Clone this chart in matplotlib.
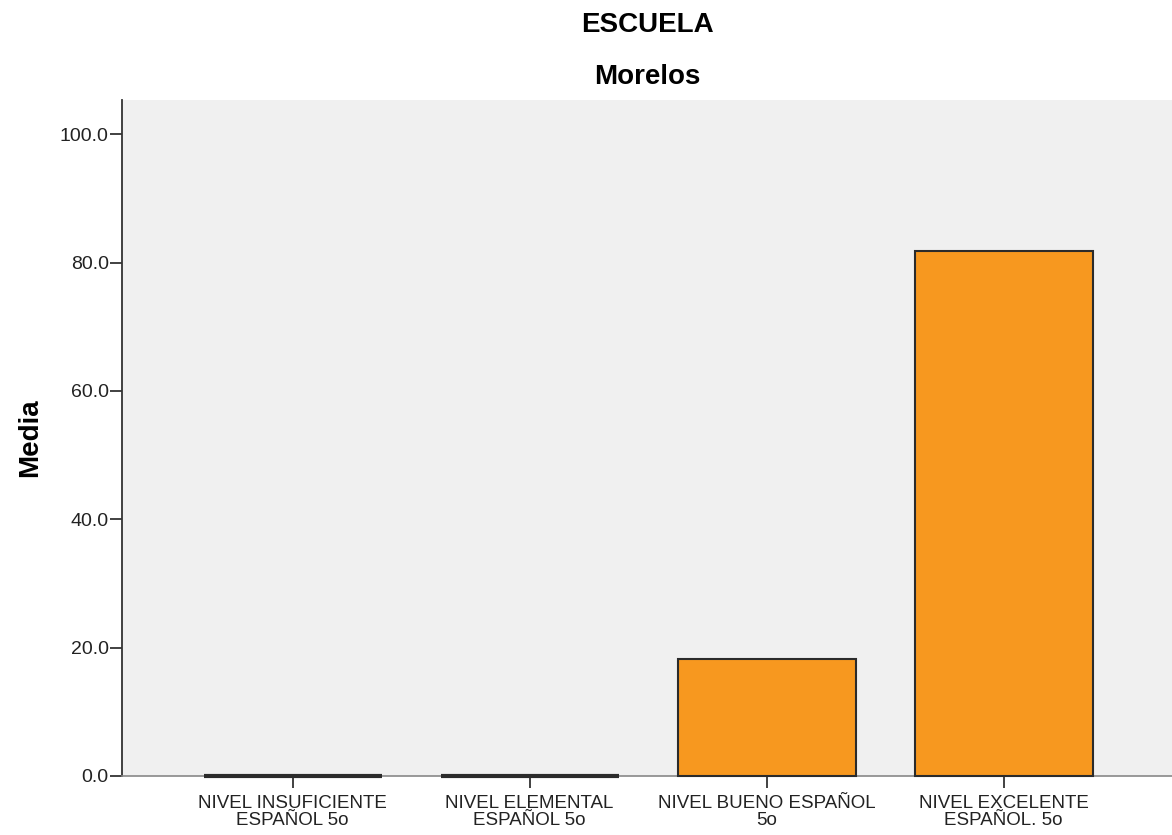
import numpy as np
import matplotlib.pyplot as plt

categorias = ['NIVEL INSUFICIENTE\nESPAÑOL 5o', 'NIVEL ELEMENTAL\nESPAÑOL 5o',
              'NIVEL BUENO ESPAÑOL\n5o', 'NIVEL EXCELENTE\nESPAÑOL. 5o']
medias = [0.0, 0.0, 18.2, 81.8]
yticks = [0, 20, 40, 60, 80, 100]

plt.rcParams['font.family'] = ['Liberation Sans', 'DejaVu Sans']

fig = plt.figure(figsize=(11.72, 8.35), dpi=100)
ax = fig.add_axes([0.1041, 0.0707, 0.8959, 0.8093])
ax.set_facecolor('#f0f0f0')

x = np.arange(len(categorias))
anchos = [3.0 if v == 0 else 1.5 for v in medias]
barras = ax.bar(x, medias, width=0.75, color='#f7981f', edgecolor='#2b2b2b', linewidth=anchos, zorder=3)
for b in barras:
    b.set_clip_on(False)

ax.set_xlim(-0.72, 3.71)
ax.set_ylim(0, 105.3)
ax.set_yticks(yticks)
ax.set_yticklabels([f'{v:.1f}' for v in yticks], fontsize=14, color='#222222')
ax.set_xticks(x)
ax.set_xticklabels(categorias, fontsize=13.5, linespacing=1.05, color='#222222')
ax.tick_params(axis='both', direction='out', length=8.5, width=1.3, color='#333333')
ax.tick_params(axis='y', pad=1)
ax.tick_params(axis='x', pad=5)

for s in ['top', 'right']:
    ax.spines[s].set_visible(False)
ax.spines['left'].set_color('#333333')
ax.spines['left'].set_linewidth(1.3)
ax.spines['bottom'].set_color('#888888')
ax.spines['bottom'].set_linewidth(1.2)

ax.set_ylabel('Media', fontsize=20, fontweight='bold', labelpad=12)
fig.text(0.5525, 0.970, 'ESCUELA', ha='center', va='center', fontsize=20, fontweight='bold')
fig.text(0.5525, 0.908, 'Morelos', ha='center', va='center', fontsize=20, fontweight='bold')

plt.savefig('out.png', dpi=100)
